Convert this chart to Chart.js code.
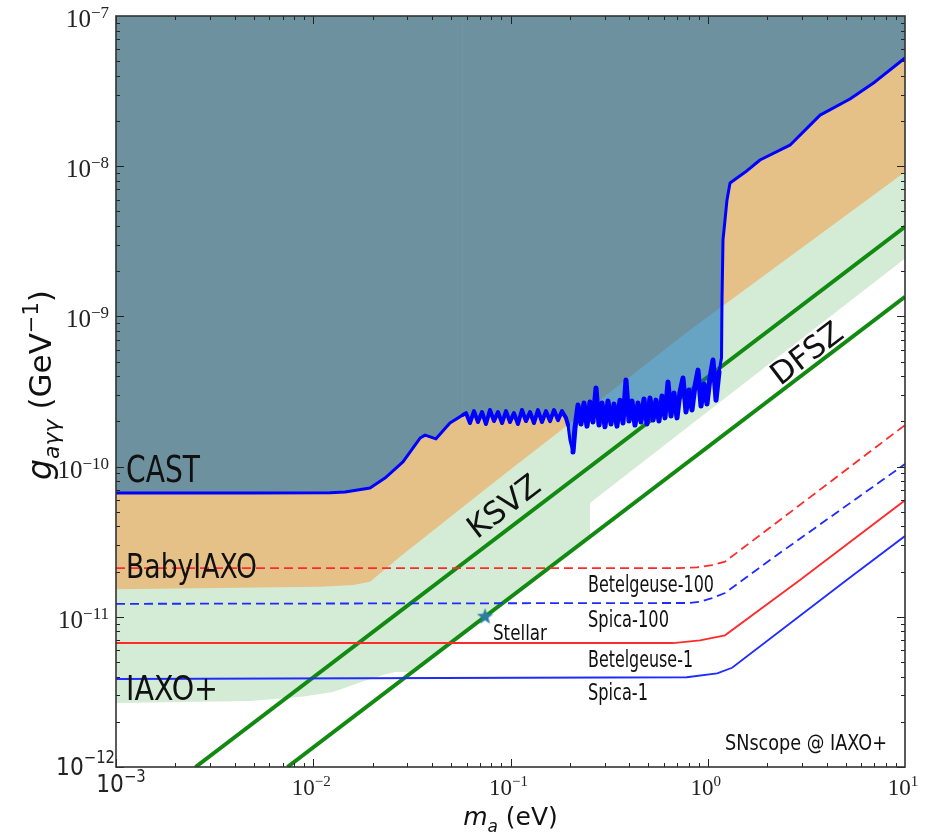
<!DOCTYPE html>
<html>
<head>
<meta charset="utf-8">
<script src="https://cdn.jsdelivr.net/npm/chart.js@4.4.1/dist/chart.umd.min.js"></script>
<style>
  html, body { margin: 0; padding: 0; background: #fff; }
  canvas { display: block; }
</style>
</head>
<body>
<canvas id="axionChart" width="933" height="840"></canvas>
<script>
// axis ticks
const xTicks = [1e-3, 1e-2, 1e-1, 1e0, 1e1];
const xTickExp = ['\u22123', '\u22122', '\u22121', '0', '1'];
const yTicks = [1e-12, 1e-11, 1e-10, 1e-9, 1e-8, 1e-7];
const yTickExp = ['\u221212', '\u221211', '\u221210', '\u22129', '\u22128', '\u22127'];

// CAST limit: m_a (eV), g (GeV^-1)
const castM = [1e-3, 4.77e-3, 0.01216, 0.0145, 0.0194, 0.0231, 0.0285, 0.0348, 0.0369, 0.0419, 0.0493, 0.0574,
  0.0595, 0.0623, 0.0653, 0.0684, 0.0717, 0.0751, 0.0787, 0.0825, 0.0864, 0.0906, 0.0949, 0.0994, 0.1041,
  0.1091, 0.1143, 0.1198, 0.1256, 0.1315, 0.1378, 0.1444, 0.1514, 0.1586, 0.1662, 0.1741, 0.1824, 0.1911,
  0.1957, 0.2002, 0.2074,
  0.2123, 0.2199, 0.2277, 0.2358, 0.2442, 0.2529, 0.2619, 0.2713, 0.2810, 0.2910, 0.3013, 0.3121, 0.3232,
  0.3347, 0.3466, 0.3590, 0.3718, 0.3850, 0.3988, 0.4130, 0.4277, 0.4429, 0.4587, 0.4751, 0.4920, 0.5095,
  0.5277, 0.5465, 0.5660, 0.5862, 0.6071, 0.6287, 0.6512, 0.6744, 0.6984, 0.7233, 0.7491, 0.7758, 0.8034,
  0.8321, 0.8617, 0.8925, 0.9243, 0.9572, 0.9913, 1.0266, 1.0632, 1.1011, 1.1403,
  1.174, 1.181, 1.195, 1.223, 1.252, 1.297, 1.55, 1.84, 2.61, 3.71, 5.26, 7.04, 10];
const castG = [6.67e-11, 6.67e-11, 6.70e-11, 6.78e-11, 7.21e-11, 8.39e-11, 1.074e-10, 1.55e-10, 1.62e-10, 1.53e-10, 1.95e-10, 2.21e-10,
  2.27e-10, 1.95e-10, 2.34e-10, 1.98e-10, 2.31e-10, 1.92e-10, 2.38e-10, 2.01e-10, 2.31e-10, 1.95e-10, 2.34e-10, 1.98e-10, 2.27e-10,
  1.92e-10, 2.38e-10, 2.01e-10, 2.31e-10, 1.95e-10, 2.38e-10, 1.98e-10, 2.34e-10, 2.01e-10, 2.38e-10, 2.04e-10, 2.34e-10, 2.11e-10,
  1.89e-10, 1.50e-10, 1.25e-10,
  1.81e-10, 2.57e-10, 1.92e-10, 2.65e-10, 1.86e-10, 2.69e-10, 1.98e-10, 3.34e-10, 1.89e-10, 2.65e-10, 1.84e-10, 2.73e-10, 1.92e-10,
  2.61e-10, 1.86e-10, 2.77e-10, 1.95e-10, 3.77e-10, 2.01e-10, 2.73e-10, 1.89e-10, 2.65e-10, 1.98e-10, 2.82e-10, 1.92e-10, 2.86e-10,
  2.04e-10, 2.77e-10, 2.01e-10, 2.95e-10, 2.11e-10, 3.66e-10, 2.17e-10, 3.09e-10, 2.11e-10, 3.14e-10, 3.89e-10, 2.31e-10, 3.24e-10,
  2.38e-10, 3.44e-10, 4.39e-10, 2.53e-10, 3.55e-10, 2.61e-10, 3.89e-10, 5.12e-10, 2.77e-10, 4.26e-10,
  5.28e-10, 1.29e-9, 3.23e-9, 4.38e-9, 5.96e-9, 7.73e-9, 9.14e-9, 1.10e-8, 1.38e-8, 2.19e-8, 2.80e-8, 3.64e-8, 5.25e-8];

// BabyIAXO sensitivity (lower edge)
const babyM = [1e-3, 0.01082, 0.01596, 0.0194, 0.02753, 0.0854, 0.813, 10];
const babyG = [1.524e-11, 1.586e-11, 1.63e-11, 1.713e-11, 2.51e-11, 8.15e-11, 8.12e-10, 9.15e-9];

// IAXO+ sensitivity (lower edge)
const iaxoM = [1e-3, 4.77e-3, 8.57e-3, 0.01259, 0.01536, 0.01873, 0.02258, 0.026, 0.0318, 0.2529, 0.2529, 10];
const iaxoG = [2.67e-12, 2.75e-12, 2.92e-12, 3.16e-12, 3.46e-12, 3.80e-12, 4.10e-12, 4.29e-12, 4.29e-12, 3.41e-11, 5.72e-11, 2.43e-9];

// QCD axion models
const ksvzM = [2.53e-3, 10];
const ksvzG = [1e-12, 3.95e-9];
const dfszM = [7.4e-3, 10];
const dfszG = [1e-12, 1.35e-9];

// SNscope @ IAXO+ sensitivities
const betel100M = [1e-3, 0.7, 0.882, 1.051, 1.223, 2.325, 10];
const betel100G = [2.11e-11, 2.11e-11, 2.136e-11, 2.21e-11, 2.33e-11, 4.41e-11, 1.89e-10];
const spica100M = [1e-3, 0.8128, 0.914, 1.05, 1.223, 2.068, 10];
const spica100G = [1.22e-11, 1.236e-11, 1.26e-11, 1.33e-11, 1.44e-11, 2.39e-11, 1.04e-10];
const betel1M = [1e-3, 0.666, 0.914, 1.223, 2.935, 10];
const betel1G = [6.69e-12, 6.69e-12, 6.97e-12, 7.53e-12, 1.758e-11, 5.97e-11];
const spica1M = [1e-3, 0.782, 1.116, 1.329, 5.063, 10];
const spica1G = [3.855e-12, 3.96e-12, 4.20e-12, 4.58e-12, 1.758e-11, 3.45e-11];

// stellar hint
const stellarM = [0.0743];
const stellarG = [1.0e-11];

function pts(ms, gs) { return ms.map((m, i) => ({x: m, y: gs[i]})); }

function starImage(size, color) {
  const c = document.createElement('canvas');
  c.width = c.height = size;
  const g = c.getContext('2d');
  const r = size / 2, ri = r * 0.42;
  g.beginPath();
  for (let i = 0; i < 10; i++) {
    const a = -Math.PI / 2 + i * Math.PI / 5;
    const rr = i % 2 ? ri : r;
    g.lineTo(r + rr * Math.cos(a), r + rr * Math.sin(a));
  }
  g.closePath();
  g.fillStyle = color;
  g.fill();
  return c;
}

// draws a list of text runs [{t, f, dy}] starting at x, y
function drawRuns(ctx, runs, x, y, align, sx) {
  let w = 0;
  runs.forEach(r => { ctx.font = r.f; r.w = ctx.measureText(r.t).width; w += r.w; });
  ctx.save();
  ctx.translate(x, y);
  ctx.scale(sx, 1);
  let cx = align === 'right' ? -w : (align === 'center' ? -w / 2 : 0);
  ctx.textAlign = 'left';
  ctx.textBaseline = 'alphabetic';
  runs.forEach(r => { ctx.font = r.f; ctx.fillText(r.t, cx, r.dy || 0); cx += r.w; });
  ctx.restore();
  return w;
}

const SANS = '"DejaVu Sans", sans-serif';
const SERIF = '"Liberation Serif", "DejaVu Serif", serif';

const notes = [
  {t: 'CAST', m: 1.124e-3, g: 7.90e-11, size: 38, w: 74},
  {t: 'BabyIAXO', m: 1.124e-3, g: 1.812e-11, size: 34, w: 131},
  {t: 'IAXO+', m: 1.124e-3, g: 2.79e-12, size: 34, w: 92},
  {t: 'Betelgeuse-100', m: 0.2471, g: 1.47e-11, size: 23, w: 126},
  {t: 'Spica-100', m: 0.2471, g: 8.59e-12, size: 23, w: 81},
  {t: 'Betelgeuse-1', m: 0.2471, g: 4.65e-12, size: 23, w: 105},
  {t: 'Spica-1', m: 0.2471, g: 2.79e-12, size: 23, w: 60},
  {t: 'Stellar', m: 0.0815, g: 7.01e-12, size: 21, w: 54},
  {t: 'SNscope @ IAXO+', m: 8.105, g: 1.297e-12, size: 21, w: 162, align: 'right'}
];
const lineNotes = [
  {t: 'KSVZ', m: 0.0938, g: 5.3e-11, line: [ksvzM, ksvzG]},
  {t: 'DFSZ', m: 3.22, g: 5.53e-10, line: [dfszM, dfszG]}
];

const framePlugin = {
  id: 'frame',
  beforeDraw(chart) {
    const ctx = chart.ctx;
    ctx.save();
    ctx.fillStyle = '#fff';
    ctx.fillRect(0, 0, chart.width, chart.height);
    ctx.restore();
  },
  afterDraw(chart) {
    const {ctx, chartArea: a, scales: {x, y}} = chart;
    ctx.save();
    ctx.fillStyle = '#111';

    // text notes inside the plot
    notes.forEach(n => {
      ctx.font = n.size + 'px ' + SANS;
      const mw = ctx.measureText(n.t).width;
      drawRuns(ctx, [{t: n.t, f: ctx.font}], x.getPixelForValue(n.m), y.getPixelForValue(n.g),
        n.align || 'left', n.w / mw);
    });
    lineNotes.forEach(n => {
      const [ms, gs] = n.line;
      const x0 = x.getPixelForValue(ms[0]), y0 = y.getPixelForValue(gs[0]);
      const x1 = x.getPixelForValue(ms[ms.length - 1]), y1 = y.getPixelForValue(gs[gs.length - 1]);
      ctx.save();
      ctx.translate(x.getPixelForValue(n.m), y.getPixelForValue(n.g));
      ctx.rotate(Math.atan2(y1 - y0, x1 - x0));
      ctx.font = '31px ' + SANS;
      ctx.textAlign = 'center';
      ctx.textBaseline = 'middle';
      ctx.fillText(n.t, 0, 0);
      ctx.restore();
    });

    // ticks on all four sides
    ctx.strokeStyle = '#222';
    ctx.lineWidth = 1;
    ctx.beginPath();
    for (let e = -3; e < 1; e++) {
      for (let k = 1; k < 10; k++) {
        const px = Math.round(x.getPixelForValue(k * Math.pow(10, e))) + 0.5;
        const len = k === 1 ? 8 : 4;
        ctx.moveTo(px, a.bottom); ctx.lineTo(px, a.bottom - len);
        ctx.moveTo(px, a.top); ctx.lineTo(px, a.top + len);
      }
    }
    for (let e = -12; e < -7; e++) {
      for (let k = 1; k < 10; k++) {
        const py = Math.round(y.getPixelForValue(k * Math.pow(10, e))) + 0.5;
        const len = k === 1 ? 8 : 4;
        ctx.moveTo(a.left, py); ctx.lineTo(a.left + len, py);
        ctx.moveTo(a.right, py); ctx.lineTo(a.right - len, py);
      }
    }
    ctx.stroke();
    ctx.strokeStyle = '#333';
    ctx.lineWidth = 1.6;
    ctx.strokeRect(a.left, a.top, a.right - a.left, a.bottom - a.top);

    // tick labels
    ctx.fillStyle = '#222';
    xTicks.forEach((v, i) => {
      const px = x.getPixelForValue(v);
      if (i === 0) {
        drawRuns(ctx, [{t: '10', f: '25px ' + SANS}, {t: xTickExp[i], f: '17px ' + SANS, dy: -10}],
          px + 5, a.bottom + 25, 'center', 0.87);
      } else {
        drawRuns(ctx, [{t: '10', f: '23px ' + SERIF}, {t: xTickExp[i], f: '15px ' + SERIF, dy: -9}],
          px - 2, a.bottom + 28, 'center', 1);
      }
    });
    yTicks.forEach((v, i) => {
      const py = y.getPixelForValue(v);
      if (i === 0) {
        drawRuns(ctx, [{t: '10', f: '25px ' + SANS}, {t: yTickExp[i], f: '17px ' + SANS, dy: -12}],
          a.left - 1, py + 8, 'right', 0.87);
      } else {
        drawRuns(ctx, [{t: '10', f: '25px ' + SERIF}, {t: yTickExp[i], f: '17px ' + SERIF, dy: -9}],
          a.left - 7, py + 11, 'right', 1);
      }
    });

    // axis titles
    ctx.fillStyle = '#111';
    drawRuns(ctx, [
      {t: 'm', f: 'italic 25px ' + SANS},
      {t: 'a', f: 'italic 17px ' + SANS, dy: 7},
      {t: ' (eV)', f: '25px ' + SANS}
    ], (a.left + a.right) / 2, 825, 'center', 1);
    ctx.save();
    ctx.translate(51, 385);
    ctx.rotate(-Math.PI / 2);
    drawRuns(ctx, [
      {t: 'g', f: 'italic 33px ' + SANS},
      {t: 'a\u03b3\u03b3', f: 'italic 22px ' + SANS, dy: 8},
      {t: ' (GeV', f: '31px ' + SANS},
      {t: '\u22121', f: '21px ' + SANS, dy: -13},
      {t: ')', f: '31px ' + SANS}
    ], 0, 0, 'center', 1);
    ctx.restore();
    ctx.restore();
  }
};

const lineBase = {pointRadius: 0, tension: 0, fill: false, clip: 0};

// the noisy part of the CAST limit is drawn thicker
function castWidth(c) {
  const m0 = c.p0.parsed.x, m1 = c.p1.parsed.x;
  if (m0 >= 0.205 && m1 <= 1.15) return 5;
  if (m0 >= 0.057 && m1 <= 0.2) return 4;
  return 3;
}

new Chart(document.getElementById('axionChart'), {
  type: 'line',
  data: {
    datasets: [
      {...lineBase, label: 'IAXO+', data: pts(iaxoM, iaxoG), order: 20,
        fill: 'end', backgroundColor: '#d4ecd5', borderWidth: 0},
      {...lineBase, label: 'BabyIAXO', data: pts(babyM, babyG), order: 19,
        fill: 'end', backgroundColor: '#e5c188', borderWidth: 0},
      {...lineBase, label: 'KSVZ', data: pts(ksvzM, ksvzG), order: 15,
        borderColor: '#128a12', borderWidth: 4},
      {...lineBase, label: 'DFSZ', data: pts(dfszM, dfszG), order: 14,
        borderColor: '#128a12', borderWidth: 4},
      {...lineBase, label: 'CAST', data: pts(castM, castG), order: 10,
        fill: 'end', backgroundColor: 'rgba(12,106,180,0.55)', borderColor: '#0000ff',
        borderWidth: 3, borderJoinStyle: 'round', borderCapStyle: 'round',
        segment: {borderWidth: castWidth}},
      {...lineBase, label: 'Betelgeuse-100', data: pts(betel100M, betel100G), order: 5,
        borderColor: '#ff2b2b', borderWidth: 1.8, borderDash: [9, 5]},
      {...lineBase, label: 'Spica-100', data: pts(spica100M, spica100G), order: 5,
        borderColor: '#1f2bff', borderWidth: 1.8, borderDash: [9, 5]},
      {...lineBase, label: 'Betelgeuse-1', data: pts(betel1M, betel1G), order: 5,
        borderColor: '#ff2b2b', borderWidth: 1.8},
      {...lineBase, label: 'Spica-1', data: pts(spica1M, spica1G), order: 5,
        borderColor: '#1f2bff', borderWidth: 1.8},
      {label: 'Stellar', data: pts(stellarM, stellarG), order: 1, showLine: false,
        pointStyle: starImage(17, '#2a7f9e'), pointRadius: 8}
    ]
  },
  options: {
    responsive: false,
    animation: false,
    events: [],
    layout: {padding: {left: 116, top: 16, right: 28, bottom: 73}},
    plugins: {legend: {display: false}, tooltip: {enabled: false}},
    scales: {
      x: {type: 'logarithmic', min: 1e-3, max: 10, display: false},
      y: {type: 'logarithmic', min: 1e-12, max: 1e-7, display: false}
    }
  },
  plugins: [framePlugin]
});
</script>
</body>
</html>
